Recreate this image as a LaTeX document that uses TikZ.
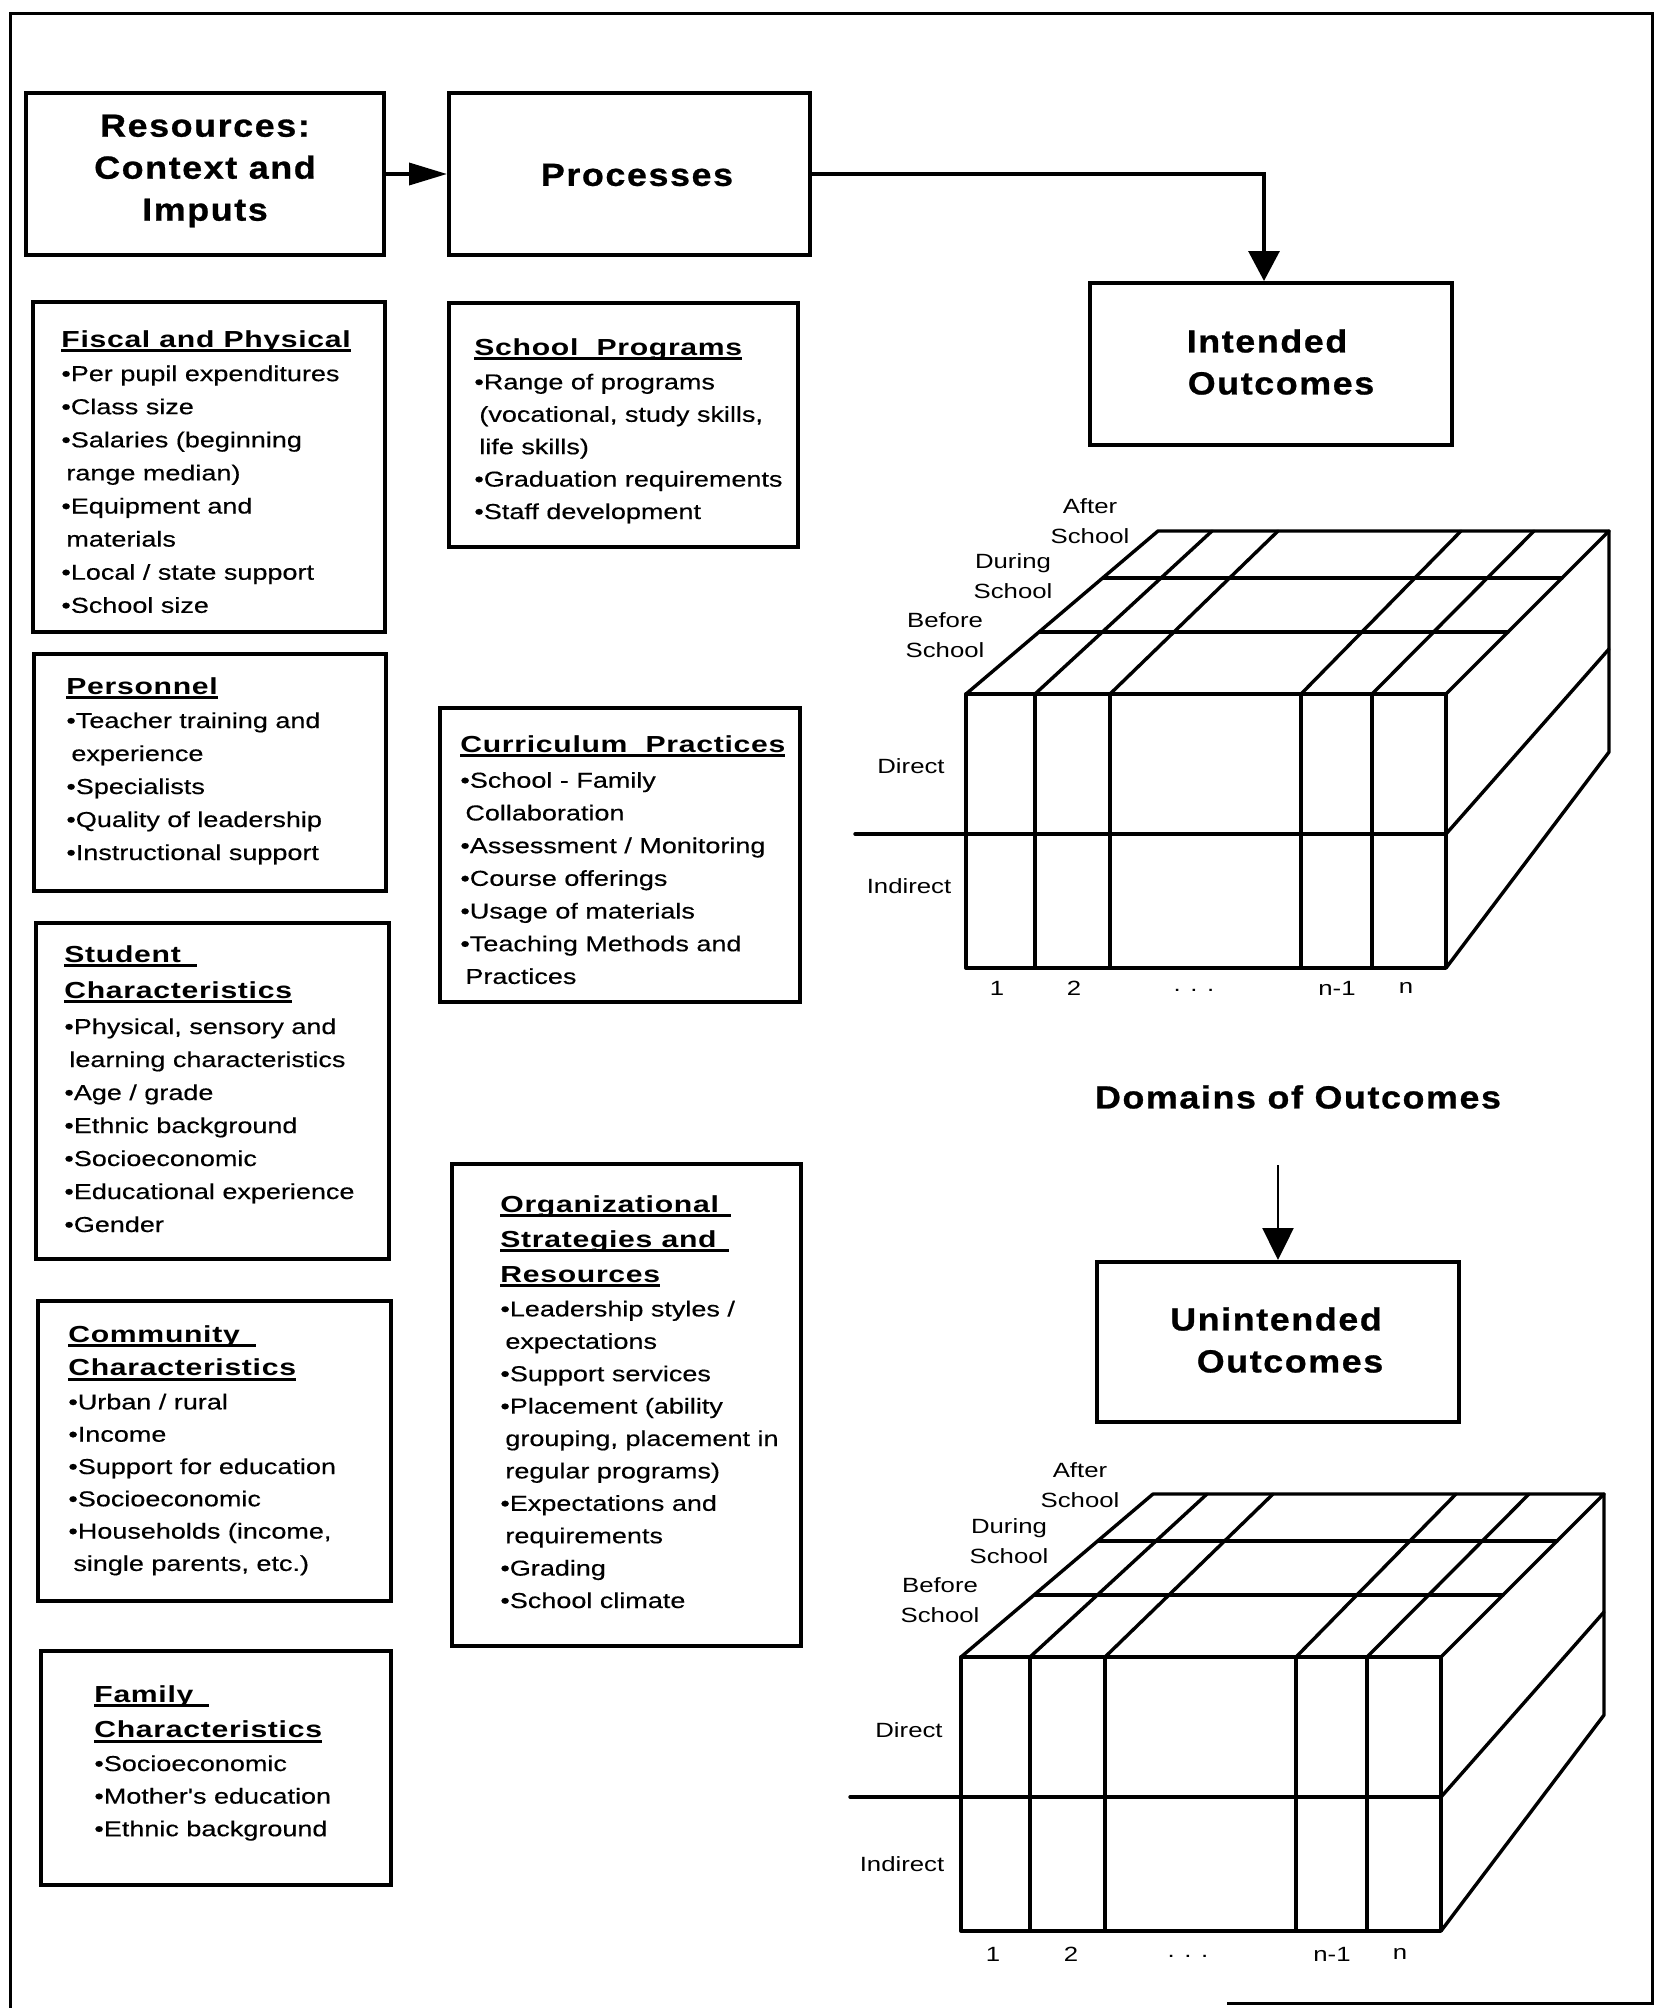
\documentclass[tikz,border=0pt]{standalone}
\usepackage{fontspec}
\usepackage{graphicx}
\usetikzlibrary{arrows.meta,fit}
\setmainfont{Liberation Sans}
\newfontfamily\itemfam[FakeStretch=1.25,FakeBold=0.4]{Liberation Sans}
\newfontfamily\hdfam[FakeStretch=1.3,LetterSpace=3]{Liberation Sans}
\newfontfamily\bigfam[FakeStretch=1.12,LetterSpace=5,FakeBold=0.8]{Liberation Sans}
\newfontfamily\cubefam[FakeStretch=1.25]{Liberation Sans}
\newcommand\itemfont{\itemfam\fontsize{10.8}{16.5}\selectfont}
\newcommand\hdfont{\hdfam\bfseries\fontsize{11.6}{16.5}\selectfont}
\newcommand\bigfont{\bigfam\bfseries\fontsize{16}{21}\selectfont}
\newcommand\cubefont{\cubefam\fontsize{10.3}{15}\selectfont}
\newsavebox\hdbox
\newcommand\hd[2][0pt]{{\hdfont\sbox\hdbox{#2\hspace{#1}}\rlap{\rule[-2.6pt]{\wd\hdbox}{1.5pt}}\usebox\hdbox}}
\newcommand\bl{\textbullet}
\newcommand\cn{\hspace*{2.5pt}}
\newcommand\blist[2][16.5pt]{\fontsize{10.8}{#1}\selectfont\begin{tabular}[t]{@{}l@{}}#2\end{tabular}}
\newcommand\cubelines{%
  \draw[cub] (966,694) rectangle (1446,968);
  \foreach \xx in {1035,1110,1301,1372} \draw[cub] (\xx,694) -- (\xx,968);
  \draw[cub] (855,834) -- (1446,834);
  \draw[cub] (966,694) -- (1158,531) -- (1609,531) -- (1446,694);
  \draw[cub] (1103,578) -- (1562,578);
  \draw[cub] (1040,632) -- (1508,632);
  \draw[cub] (1035,694) -- (1212,531);
  \draw[cub] (1110,694) -- (1278,531);
  \draw[cub] (1301,694) -- (1461,531);
  \draw[cub] (1372,694) -- (1534,531);
  \draw[cub] (1609,531) -- (1609,752) -- (1446,968);
  \draw[cub] (1609,649) -- (1446,834);
}
\begin{document}
\begin{tikzpicture}[x=0.5pt,y=-0.5pt,
  box/.style={draw,line width=2pt,inner sep=0pt},
  cub/.style={line width=1.7pt,line cap=round,line join=round},
  arr/.style={line width=1.6pt,-{Triangle[length=15pt,width=15.5pt]}},
  txt/.style={anchor=base west,inner sep=0pt,font=\itemfont},
  big/.style={font=\bigfont,align=center,inner sep=0pt},
  clab/.style={font=\cubefont,align=center,inner sep=0pt}]
\useasboundingbox (0,0) rectangle (1658,2008);
% outer frame (its bottom edge is mostly cut off at the image edge)
\draw[line width=1.5pt] (10,2008) -- (10,13) -- (1652,13) -- (1652,2003) -- (1227,2003);

% top row
\node[box,fit={(26,93)(384,255)}] (res) {};
\node[big] (resT) at (205,171) {Resources:\\Context and\\Imputs};
\node[box,fit={(449,93)(810,255)}] (proc) {};
\node[big] (procT) at (637,175) {Processes};
\node[box,fit={(1090,283)(1452,445)}] (intd) {};
\node[big] (intdT) at (1267,362) {Intended\\\hspace*{14pt}Outcomes};
\node[box,fit={(1097,1262)(1459,1422)}] (unint) {};
\node[big] (unintT) at (1276,1340) {Unintended\\\hspace*{14pt}Outcomes};
\node[big] (dom) at (1298,1097) {Domains of Outcomes};
\coordinate (dtop) at (1278,1165);

\draw[line width=1.8pt,-{Triangle[length=19pt,width=11pt]}] (res.east) -- (proc.west);
\draw[arr] (proc.east) -| ([xshift=-3.5pt]intd.north);
\draw[line width=1.2pt,-{Triangle[length=16pt,width=15.5pt]}] (dtop) -- (unint.north);

% left column boxes
\node[box,fit={(33,302)(385,632)}] (fis) {};
\node[box,fit={(34,654)(386,891)}] (pers) {};
\node[box,fit={(36,923)(389,1259)}] (stud) {};
\node[box,fit={(38,1301)(391,1601)}] (comm) {};
\node[box,fit={(41,1651)(391,1885)}] (fam) {};
% middle column boxes
\node[box,fit={(449,303)(798,547)}] (sprog) {};
\node[box,fit={(440,708)(800,1002)}] (curr) {};
\node[box,fit={(452,1164)(801,1646)}] (org) {};

\node[txt] (fisT) at (61,347) {\blist[16.55pt]{\hd{Fiscal and Physical}\\[0.5pt]
\bl Per pupil expenditures\\
\bl Class size\\
\bl Salaries (beginning\\
\cn range median)\\
\bl Equipment and\\
\cn materials\\
\bl Local / state support\\
\bl School size}};

\node[txt] (persT) at (66,694) {\blist[16.5pt]{\hd{Personnel}\\[0.5pt]
\bl Teacher training and\\
\cn experience\\
\bl Specialists\\
\bl Quality of leadership\\
\bl Instructional support}};

\node[txt] (studT) at (64,962) {\blist[16.5pt]{\hd[8pt]{Student}\\[1.5pt]
\hd{Characteristics}\\[1.5pt]
\bl Physical, sensory and\\
\cn learning characteristics\\
\bl Age / grade\\
\bl Ethnic background\\
\bl Socioeconomic\\
\bl Educational experience\\
\bl Gender}};

\node[txt] (commT) at (68,1342) {\blist[16.15pt]{\hd[8pt]{Community}\\[0.6pt]
\hd{Characteristics}\\[0.8pt]
\bl Urban / rural\\
\bl Income\\
\bl Support for education\\
\bl Socioeconomic\\
\bl Households (income,\\
\cn single parents, etc.)}};

\node[txt] (famT) at (94,1702) {\blist[16.3pt]{\hd[8pt]{Family}\\[1.5pt]
\hd{Characteristics}\\[0.4pt]
\bl Socioeconomic\\
\bl Mother's education\\
\bl Ethnic background}};

\node[txt] (sprogT) at (474,355) {\blist[16.2pt]{\hd{School\ \ Programs}\\[1pt]
\bl Range of programs\\
\cn (vocational, study skills,\\
\cn life skills)\\
\bl Graduation requirements\\
\bl Staff development}};

\node[txt] (currT) at (460,752) {\blist[16.35pt]{\hd{Curriculum\ \ Practices}\\[1.5pt]
\bl School - Family\\
\cn Collaboration\\
\bl Assessment / Monitoring\\
\bl Course offerings\\
\bl Usage of materials\\
\bl Teaching Methods and\\
\cn Practices}};

\node[txt] (orgT) at (500,1212) {\blist[16.2pt]{\hd[6pt]{Organizational}\\[1.3pt]
\hd[6pt]{Strategies and}\\[1.3pt]
\hd{Resources}\\[1pt]
\bl Leadership styles /\\
\cn expectations\\
\bl Support services\\
\bl Placement (ability\\
\cn grouping, placement in\\
\cn regular programs)\\
\bl Expectations and\\
\cn requirements\\
\bl Grading\\
\bl School climate}};

% cube 1
\cubelines
\node[clab] (aA) at (1090,521) {After\\School};
\node[clab] (aD) at (1013,576) {During\\School};
\node[clab] (aB) at (945,635) {Before\\School};
\node[clab] (aDir) at (911,766) {Direct};
\node[clab] (aInd) at (909,886) {Indirect};
\node[clab] (a1) at (997,988) {1};
\node[clab] (a2) at (1074,988) {2};
\node[clab] (a3) at (1194,990) {. . .};
\node[clab] (a4) at (1337,988) {n-1};
\node[clab] (a5) at (1406,988) {n};

% cube 2
\begin{scope}[shift={(-5,963)}]
\cubelines
\end{scope}
\node[clab] (bA) at (1080,1485) {After\\School};
\node[clab] (bD) at (1009,1541) {During\\School};
\node[clab] (bB) at (940,1600) {Before\\School};
\node[clab] (bDir) at (909,1730) {Direct};
\node[clab] (bInd) at (902,1864) {Indirect};
\node[clab] (b1) at (993,1954) {1};
\node[clab] (b2) at (1071,1954) {2};
\node[clab] (b3) at (1188,1956) {. . .};
\node[clab] (b4) at (1332,1954) {n-1};
\node[clab] (b5) at (1400,1954) {n};
\end{tikzpicture}
\end{document}
